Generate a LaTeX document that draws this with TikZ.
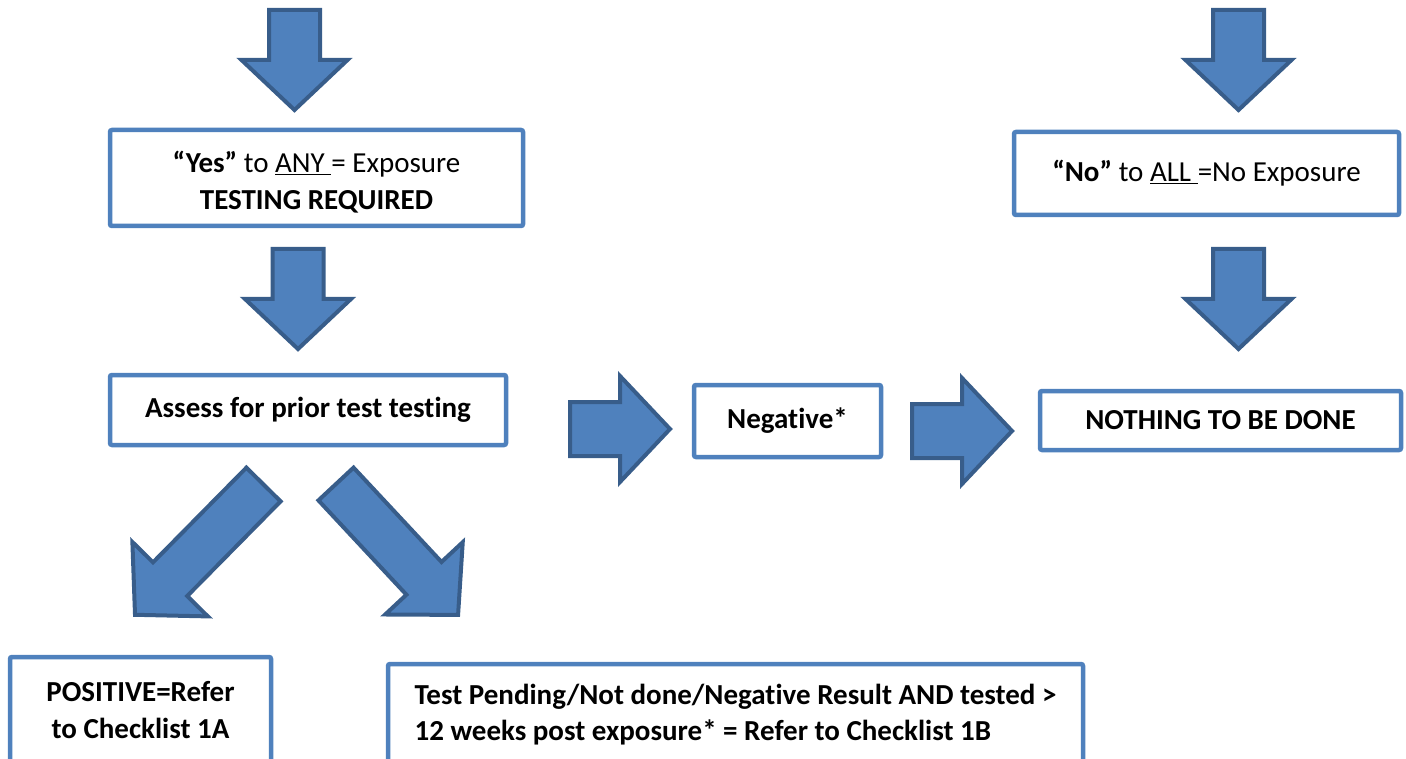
\documentclass[tikz,border=0pt]{standalone}
\usepackage{fontspec}
\setmainfont{Carlito}[Ligatures=NoCommon]
\definecolor{boxblue}{HTML}{4F81BD}
\definecolor{arrowedge}{HTML}{385D8A}
\begin{document}
\begin{tikzpicture}[x=1pt,y=-1pt,
  box/.style={draw=boxblue, line width=4.5pt, rounded corners=2pt, fill=white,
    inner sep=0pt, font=\fontsize{29}{36.5}\selectfont, align=center},
  boldbox/.style={box, font=\fontsize{29}{36.5}\selectfont\bfseries},
  barrowstyle/.style={fill=boxblue, draw=arrowedge, line width=4pt, miter limit=10},
  pics/barrow/.style 2 args={code={
    \draw[barrowstyle] (0,-#2) -- ({#1-50},-#2) -- ({#1-50},-53) -- (#1,0)
      -- ({#1-50},53) -- ({#1-50},#2) -- (0,#2) -- cycle;}}
]
\clip (0,0) rectangle (1406,759);

% boxes
\node[box, minimum width=413pt, minimum height=96pt] (yes) at (316.5,178)
  {\rule{0pt}{30pt}\textbf{“Yes”} to \underline{ANY\ }= Exposure\\ \textbf{TESTING REQUIRED}};
\node[box, minimum width=385pt, minimum height=83pt] (no) at (1206.5,173.5)
  {\textbf{“No”} to \underline{ALL\ }=No Exposure};
\node[boldbox, minimum width=396pt, minimum height=70pt] (assess) at (308,410)
  {Assess for prior test testing};
\node[boldbox, minimum width=187pt, minimum height=72pt] (neg) at (787.5,421)
  {Negative*};
\node[boldbox, minimum width=361pt, minimum height=59pt] (nothing) at (1220.5,420.5)
  {NOTHING TO BE DONE};
\node[boldbox, minimum width=261pt, minimum height=106pt] (pos) at (140.5,710)
  {POSITIVE=Refer\\ to Checklist 1A};
\node[boldbox, minimum width=695pt, minimum height=101pt, align=left] (pend) at (735.5,714.5)
  {Test Pending/Not done/Negative Result AND tested >\\ 12 weeks post exposure* = Refer to Checklist 1B};

% block arrows
\coordinate (d1) at (294.5,10);
\coordinate (d2) at (1238.5,10);
\coordinate (d3) at (298,249);
\coordinate (d4) at (1238.5,249);
\coordinate (r1) at (570,429);
\coordinate (r2) at (912,431);
\coordinate (g1) at (263.5,484.5);
\coordinate (g2) at (336,484);
\pic[rotate=-90] at (d1) {barrow={100}{25.5}};
\pic[rotate=-90] at (d2) {barrow={100}{25.5}};
\pic[rotate=-90] at (d3) {barrow={100}{25.5}};
\pic[rotate=-90] at (d4) {barrow={100}{25.5}};
\pic at (r1) {barrow={100}{27}};
\pic at (r2) {barrow={100}{27}};
\pic[rotate=-134.6] at (g1) {barrow={183}{24}};
\pic[rotate=-47] at (g2) {barrow={179}{24}};
\end{tikzpicture}
\end{document}
